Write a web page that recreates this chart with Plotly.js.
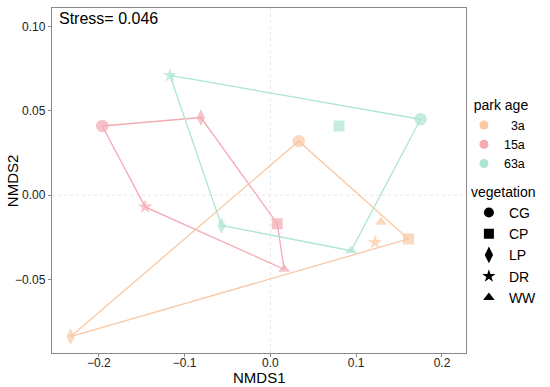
<!DOCTYPE html>
<html>
<head>
<meta charset="utf-8">
<script src="https://cdn.plot.ly/plotly-3.0.1.min.js"></script>
<style>html,body{margin:0;padding:0;background:#fff}#chart{width:550px;height:387px}</style>
</head>
<body>
<div id="chart"></div>
<script>
// ---- data ----
const vegetation = ['CG', 'CP', 'LP', 'DR', 'WW'];
const parkAges = ['3a', '15a', '63a'];
const parkAgeLabels = ['\u20073a', '15a', '63a'];
const nmds1_3a  = [0.033, 0.161, -0.233, 0.122, 0.129];
const nmds2_3a  = [0.032, -0.026, -0.084, -0.028, -0.016];
const nmds1_15a = [-0.196, 0.008, -0.081, -0.146, 0.016];
const nmds2_15a = [0.041, -0.017, 0.046, -0.007, -0.044];
const nmds1_63a = [0.175, 0.080, -0.057, -0.117, 0.094];
const nmds2_63a = [0.045, 0.041, -0.018, 0.071, -0.033];
const xTickVals = [-0.2, -0.1, 0, 0.1, 0.2];
const xTickText = ['\u22120.2', '\u22120.1', '0.0', '0.1', '0.2'];
const yTickVals = [-0.05, 0, 0.05, 0.1];
const yTickText = ['\u22120.05', '0.00', '0.05', '0.10'];
const stressText = 'Stress= 0.046';

// ---- styles ----
const FONT = 'Liberation Sans, Arial, sans-serif';
const ageColors = ['#F9C8A4', '#F4A9B3', '#ABE6D1'];
const vegSymbols = ['circle', 'square', 'diamond-tall', 'star', 'triangle-up'];
const vegSizes = [12.5, 11, 12, 11, 10.5];
const xs = [nmds1_3a, nmds1_15a, nmds1_63a];
const ys = [nmds2_3a, nmds2_15a, nmds2_63a];

function hull(px, py) {
  const pts = px.map((x, i) => [x, py[i]]).sort((a, b) => a[0] - b[0] || a[1] - b[1]);
  const cross = (o, a, b) => (a[0]-o[0])*(b[1]-o[1]) - (a[1]-o[1])*(b[0]-o[0]);
  const lower = [], upper = [];
  for (const p of pts) { while (lower.length >= 2 && cross(lower[lower.length-2], lower[lower.length-1], p) <= 0) lower.pop(); lower.push(p); }
  for (let i = pts.length-1; i >= 0; i--) { const p = pts[i]; while (upper.length >= 2 && cross(upper[upper.length-2], upper[upper.length-1], p) <= 0) upper.pop(); upper.push(p); }
  upper.pop(); lower.pop();
  const h = lower.concat(upper); h.push(h[0]);
  return h;
}

const traces = [];
parkAges.forEach((a, k) => {
  const h = hull(xs[k], ys[k]);
  traces.push({type: 'scatter', mode: 'lines', x: h.map(p => p[0]), y: h.map(p => p[1]),
    line: {color: ageColors[k], width: 1.3}, showlegend: false, hoverinfo: 'skip'});
});
parkAges.forEach((a, k) => {
  traces.push({type: 'scatter', mode: 'markers', x: xs[k], y: ys[k], text: vegetation,
    marker: {color: ageColors[k], symbol: vegSymbols, size: vegSizes, line: {width: 0}},
    showlegend: false, name: a});
});
parkAges.forEach((a, k) => {
  traces.push({type: 'scatter', mode: 'markers', x: [null], y: [null], name: parkAgeLabels[k], legend: 'legend',
    marker: {color: ageColors[k], symbol: 'circle', size: 9}, showlegend: true});
});
vegetation.forEach((v, j) => {
  traces.push({type: 'scatter', mode: 'markers', x: [null], y: [null], name: v, legend: 'legend2',
    marker: {color: '#000', symbol: vegSymbols[j], size: j === 2 ? 12 : 10}, showlegend: true});
});

const axisCommon = {
  showgrid: false, zeroline: false, showline: true, mirror: true, automargin: false,
  linecolor: '#8a8a8a', linewidth: 1.2, ticks: 'outside', ticklen: 3, tickcolor: '#8a8a8a',
  tickfont: {family: FONT, size: 12, color: '#222'}
};

const layout = {
  width: 550, height: 387,
  margin: {l: 52, r: 78, t: 8, b: 34},
  paper_bgcolor: '#fff', plot_bgcolor: '#fff',
  xaxis: Object.assign({}, axisCommon, {range: [-0.2546, 0.228], tickvals: xTickVals, ticktext: xTickText,
    ticklabelstandoff: -5}),
  yaxis: Object.assign({}, axisCommon, {range: [-0.0937, 0.111], tickvals: yTickVals, ticktext: yTickText}),
  shapes: [
    {type: 'line', xref: 'x', yref: 'paper', x0: 0, x1: 0, y0: 0, y1: 1, layer: 'below',
      line: {color: '#e6e6e6', width: 1, dash: 'dot'}},
    {type: 'line', xref: 'paper', yref: 'y', x0: 0, x1: 1, y0: 0, y1: 0, layer: 'below',
      line: {color: '#e6e6e6', width: 1, dash: 'dot'}}
  ],
  annotations: [
    {text: stressText, xref: 'paper', yref: 'paper', x: 0.012, y: 1.0,
      xanchor: 'left', yanchor: 'top', showarrow: false, font: {family: FONT, size: 16, color: '#000'}},
    {text: 'NMDS1', xref: 'paper', yref: 'paper', x: 0.5, y: -0.072, xanchor: 'center', yanchor: 'middle',
      showarrow: false, font: {family: FONT, size: 15, color: '#000'}},
    {text: 'NMDS2', xref: 'paper', yref: 'paper', x: -0.095, y: 0.5, xanchor: 'center', yanchor: 'middle',
      textangle: -90, showarrow: false, font: {family: FONT, size: 15, color: '#000'}}
  ],
  legend: {x: 0.995, y: 0.756, xanchor: 'left', yanchor: 'top', bgcolor: 'rgba(0,0,0,0)',
    font: {family: FONT, size: 12.5, color: '#000'},
    title: {text: '\u00a0\u00a0park age', font: {family: FONT, size: 14}},
    itemwidth: 30, tracegroupgap: 0},
  legend2: {x: 1.007, y: 0.505, xanchor: 'left', yanchor: 'top', bgcolor: 'rgba(0,0,0,0)',
    font: {family: FONT, size: 14, color: '#000'},
    title: {text: 'vegetation', font: {family: FONT, size: 14}},
    itemwidth: 30, tracegroupgap: 0},
  showlegend: true
};

Plotly.newPlot('chart', traces, layout, {displayModeBar: false, staticPlot: true});
</script>
</body>
</html>
